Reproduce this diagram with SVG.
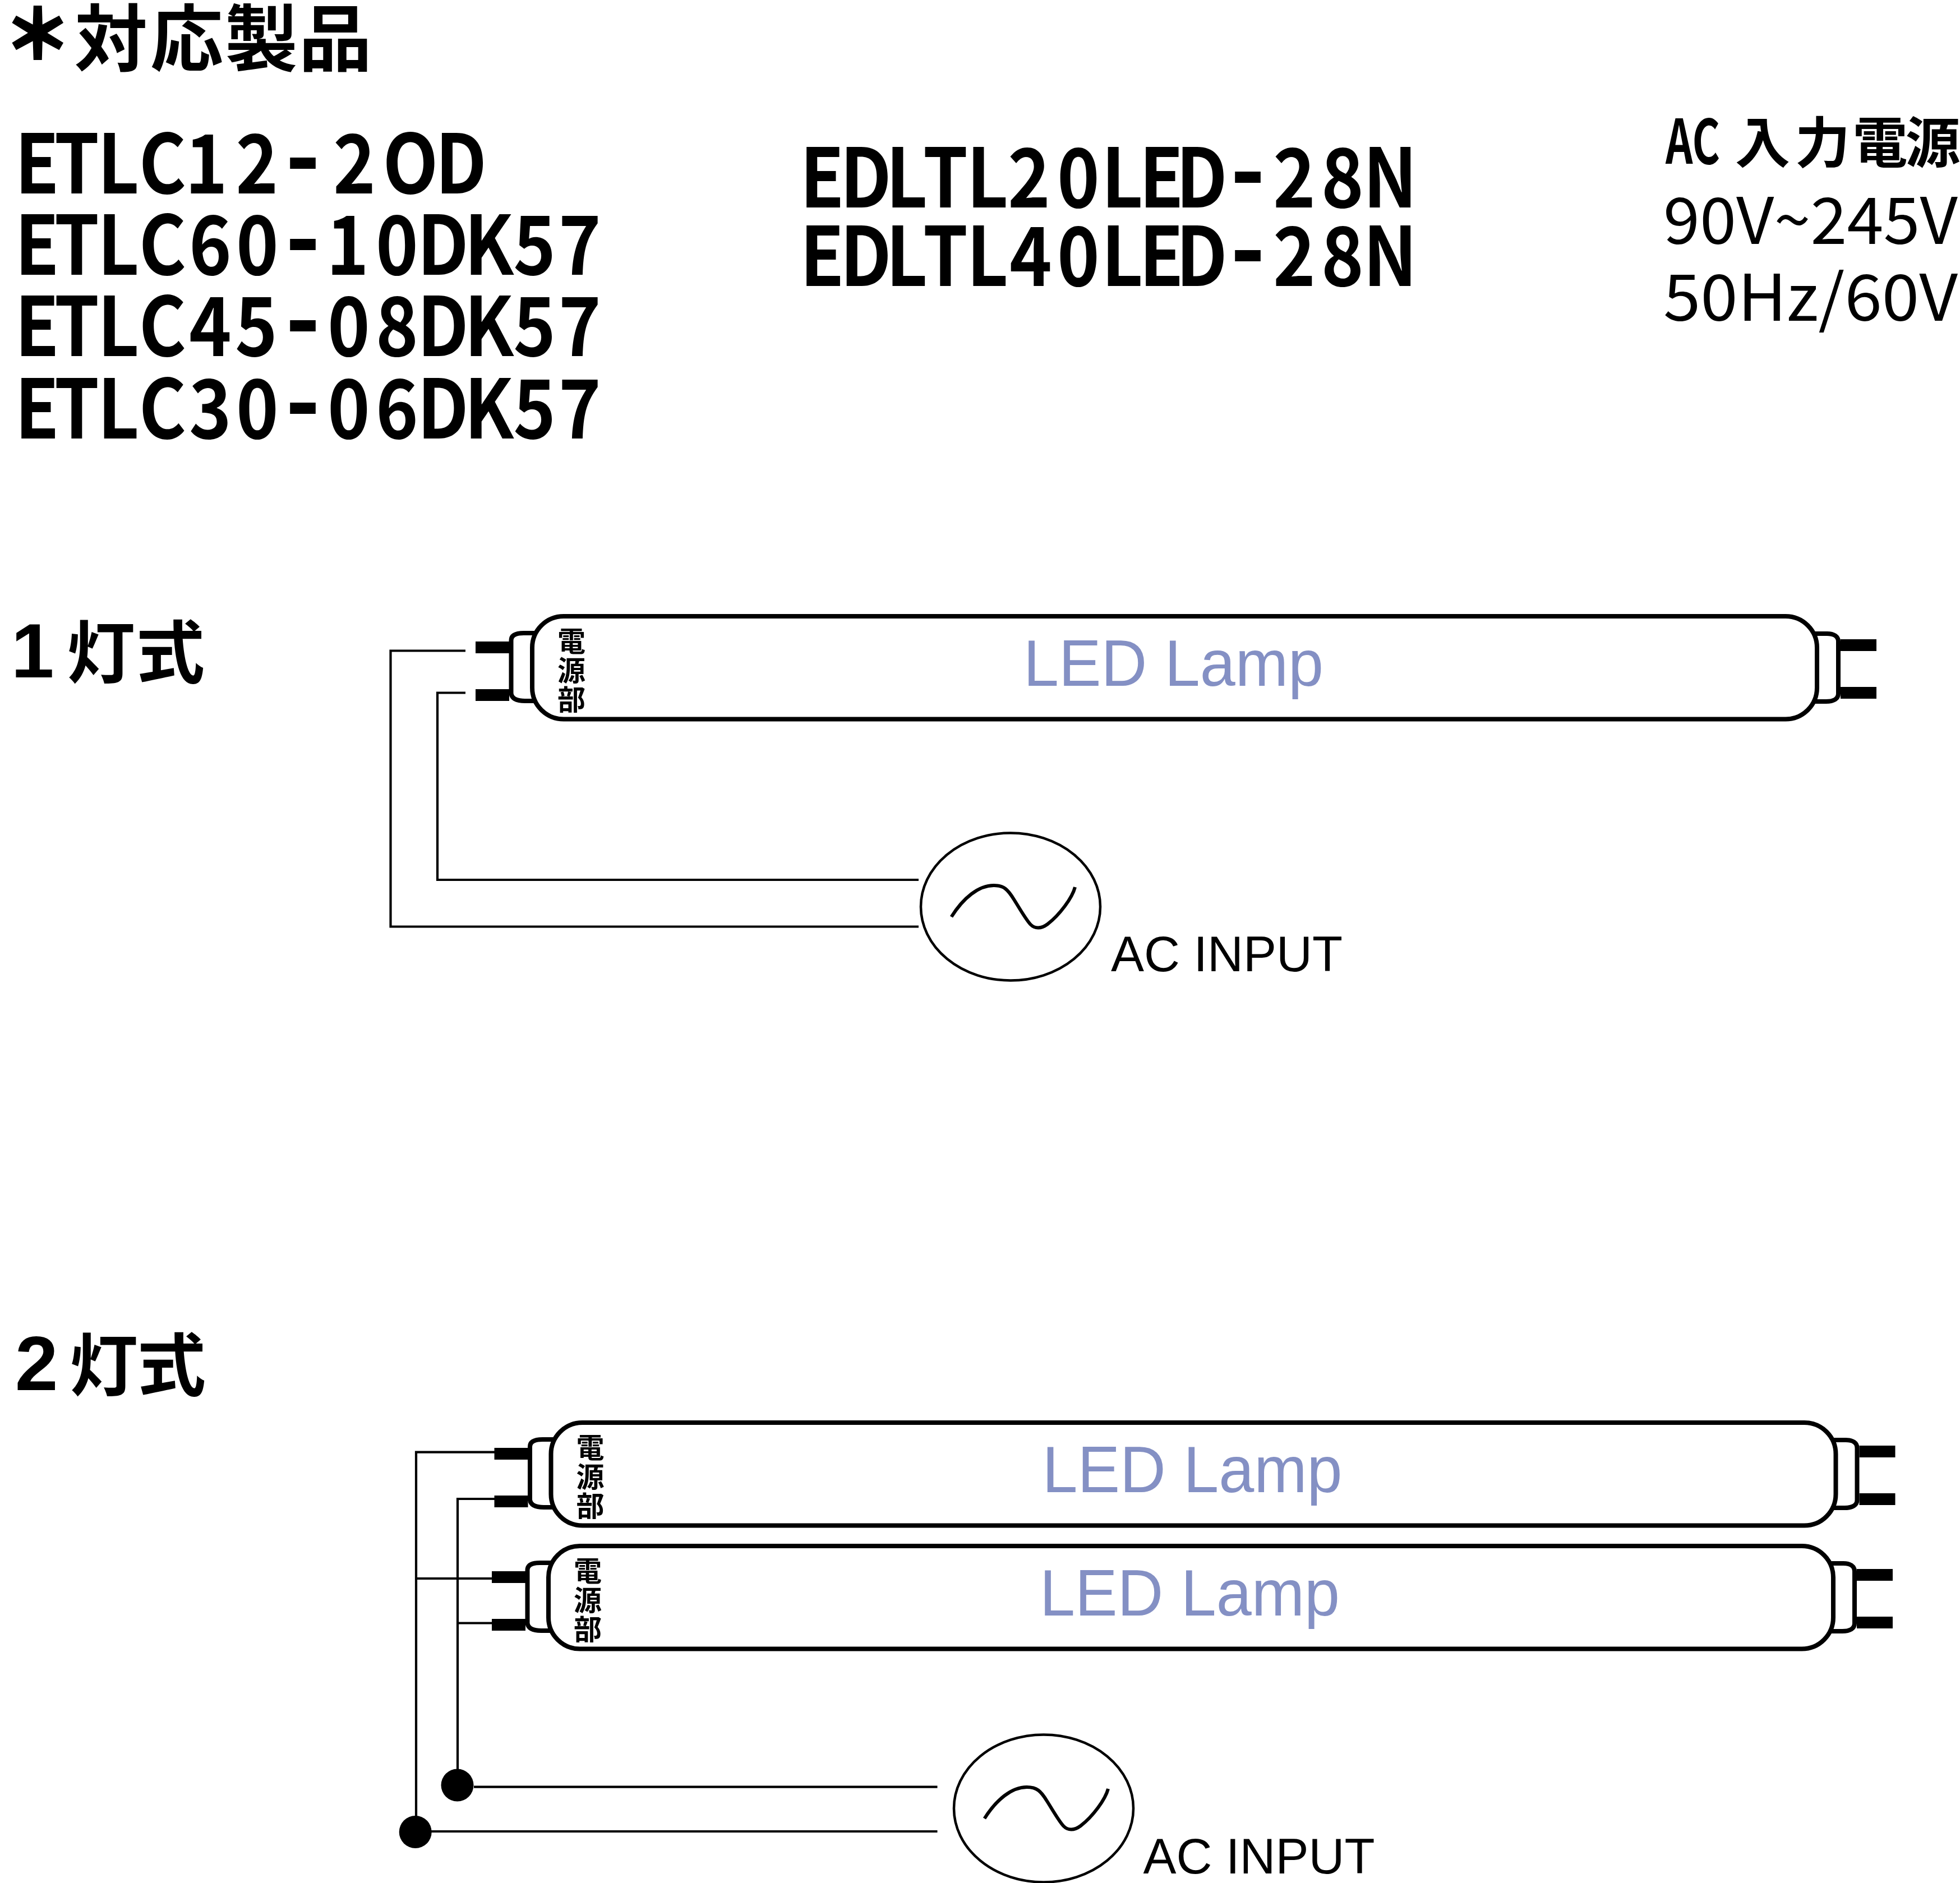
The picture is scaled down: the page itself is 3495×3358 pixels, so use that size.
<svg xmlns="http://www.w3.org/2000/svg" xmlns:xlink="http://www.w3.org/1999/xlink" width="3495" height="3358" viewBox="0 0 3495 3358">
<style>
text{font-family:"Noto Sans CJK JP","Noto Sans",sans-serif;fill:#000}
.h{font-weight:700;text-anchor:middle}
.model{font-size:146px}
.hy{font-size:190px}
.reg{font-size:115px}
.num{font-family:"Liberation Sans",Arial,sans-serif;font-size:138px}
.ac{font-family:"Liberation Sans",Arial,sans-serif;font-size:89px}
.led{font-family:"Liberation Sans",Arial,sans-serif;font-size:116px;fill:#8490c4}
.psu{font-size:50px}
.wire{fill:none;stroke:#000;stroke-width:4.2}
.tube{fill:#fff;stroke:#000;stroke-width:8}
.cap{fill:none;stroke:#000;stroke-width:8}
.wave{fill:none;stroke:#000;stroke-width:6}
.src{fill:#fff;stroke:#000;stroke-width:4.5}
</style>
<defs>
<g id="lamp">
<rect x="848" y="1143" width="60" height="21"/><rect x="848" y="1228" width="60" height="21"/>
<rect x="3282" y="1139" width="64" height="21"/><rect x="3282" y="1224" width="64" height="21"/>
<path class="cap" d="M956 1128H934C920 1128 911.500 1132 911.500 1141V1236C913 1245 922 1249 936 1249H956"/>
<path class="cap" d="M3235 1129H3258C3270 1129 3278 1134 3278 1143V1236C3278 1245 3270 1250 3256 1250H3235"/>
<rect class="tube" x="949" y="1098" width="2291" height="183.500" rx="56" ry="56"/>
</g>
<g id="source">
<ellipse class="src" cx="1802" cy="1616" rx="160" ry="131.500"/>
<path class="wave" d="M1696.500 1634C1718 1600 1745 1578 1772 1578C1790 1578 1797 1585 1808 1603C1820 1622 1830 1640 1838 1648C1845 1655 1856 1656 1868 1647C1890 1630 1912 1600 1917 1581"/>
</g>
</defs>

<g id="title"><text class="h" font-size="130" y="116" x="67 198 333 466 598"><tspan dy="-12" font-size="118" stroke="#000" stroke-width="6">＊</tspan><tspan dy="12">対応製品</tspan></text></g>

<g id="models-etlc" transform="scale(.88,1)">
<text class="h model" y="345" x="75 155.700 239.800 329.500 418.200 520.500 613.600 718.200 831.800 934.100">ETLC12<tspan class="hy">-</tspan>2OD</text>
<text class="h model" y="490" x="75 155.700 239.800 329.500 426.100 521.600 613.600 704.500 804.500 897.700 990.900 1083 1175">ETLC60<tspan class="hy">-</tspan>10DK57</text>
<text class="h model" y="635.500" x="75 155.700 239.800 329.500 426.100 519.300 613.600 706.800 804.500 897.700 990.900 1083 1175">ETLC45<tspan class="hy">-</tspan>08DK57</text>
<text class="h model" y="782" x="75 155.700 239.800 329.500 426.100 521.600 613.600 706.800 804.500 897.700 990.900 1083 1175">ETLC30<tspan class="hy">-</tspan>06DK57</text>
</g>
<g id="models-edltl" transform="scale(.88,1)">
<text class="h model" y="370" x="1665.900 1754.500 1837.500 1915.900 2001.100 2085.200 2185.200 2273.900 2353.400 2435.200 2528.400 2622.700 2720.500 2817">EDLTL20LED<tspan class="hy">-</tspan>28N</text>
<text class="h model" y="510.500" x="1665.900 1754.500 1837.500 1915.900 2001.100 2088.600 2185.200 2273.900 2353.400 2435.200 2528.400 2622.700 2720.500 2817">EDLTL40LED<tspan class="hy">-</tspan>28N</text>
</g>
<g id="input-spec">
<text font-weight="700" font-size="109" x="2970" y="292" textLength="97" lengthAdjust="spacingAndGlyphs">AC</text>
<text class="h" font-size="98" y="290" x="3143 3250 3352.500 3446.500">入力電源</text>
<text class="reg" x="2966" y="435" textLength="525" lengthAdjust="spacingAndGlyphs">90V~245V</text>
<text class="reg" x="2966" y="572" textLength="525" lengthAdjust="spacingAndGlyphs">50Hz/60V</text>
</g>

<g id="label-1"><text class="h" font-size="122" y="1208" x="58 180 304"><tspan class="num">1</tspan>灯式</text></g>
<g id="label-2"><text class="h" font-size="122" y="2479" x="65 185 306"><tspan class="num">2</tspan>灯式</text></g>

<g id="connectors" transform="translate(0,1)">
<path class="wire" d="M830 1159.500H696.500V1651.500H1638"/>
<path class="wire" d="M830 1234.500H780V1568H1638"/>
<path class="wire" d="M882 2588.700H742V3240"/>
<path class="wire" d="M742 2814H878"/>
<path class="wire" d="M882 2672H816V3160"/>
<path class="wire" d="M816 2893.500H878"/>
<path class="wire" d="M845 3185.700H1671.500"/>
<path class="wire" d="M769 3265H1671.500"/>
<circle cx="740.700" cy="3266" r="29"/>
<circle cx="815.500" cy="3182.500" r="29"/>
</g>

<g id="lamp-1">
<use href="#lamp" xlink:href="#lamp" y="1"/>
<text class="led" x="1825" y="1223" textLength="535" lengthAdjust="spacingAndGlyphs">LED Lamp</text>
<text class="h psu" x="1019" y="1162">電</text><text class="h psu" x="1019" y="1213.500">源</text><text class="h psu" x="1019" y="1266">部</text>
</g>
<g id="lamp-2">
<use href="#lamp" xlink:href="#lamp" x="33.500" y="1439"/>
<text class="led" x="1858.500" y="2661" textLength="535" lengthAdjust="spacingAndGlyphs">LED Lamp</text>
<text class="h psu" x="1052.500" y="2600">電</text><text class="h psu" x="1052.500" y="2651.500">源</text><text class="h psu" x="1052.500" y="2704">部</text>
</g>
<g id="lamp-3">
<use href="#lamp" xlink:href="#lamp" x="29" y="1659"/>
<text class="led" x="1854" y="2881" textLength="535" lengthAdjust="spacingAndGlyphs">LED Lamp</text>
<text class="h psu" x="1048" y="2820">電</text><text class="h psu" x="1048" y="2871.500">源</text><text class="h psu" x="1048" y="2924">部</text>
</g>

<g id="ac-source-1">
<use href="#source" xlink:href="#source" y="1"/>
<text class="ac" x="1981" y="1731.500" textLength="413" lengthAdjust="spacingAndGlyphs">AC INPUT</text>
</g>
<g id="ac-source-2">
<use href="#source" xlink:href="#source" x="59" y="1609"/>
<text class="ac" x="2038.500" y="3340.500" textLength="413" lengthAdjust="spacingAndGlyphs">AC INPUT</text>
</g>
</svg>
